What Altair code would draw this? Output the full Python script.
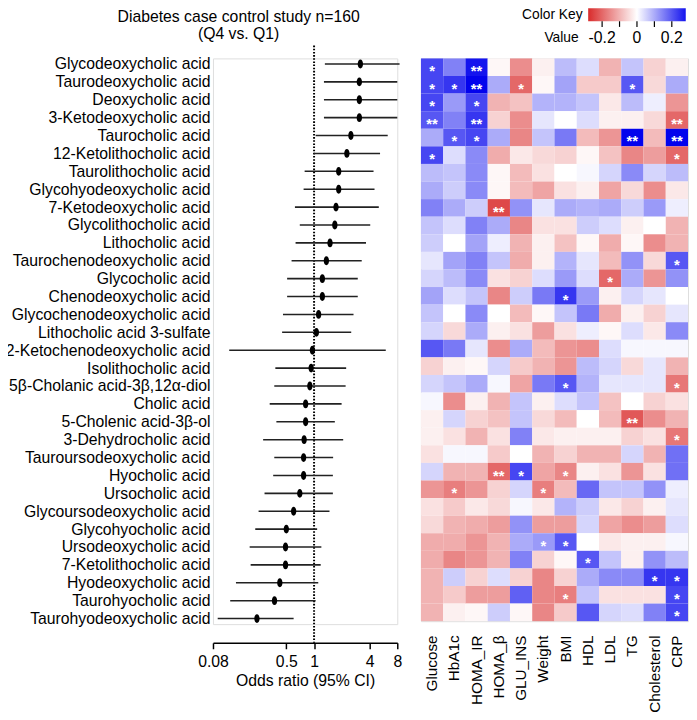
import altair as alt
import pandas as pd

acids = [
    "Glycodeoxycholic acid", "Taurodeoxycholic acid", "Deoxycholic acid",
    "3-Ketodeoxycholic acid", "Taurocholic acid", "12-Ketolithocholic acid",
    "Taurolithocholic acid", "Glycohyodeoxycholic acid", "7-Ketodeoxycholic acid",
    "Glycolithocholic acid", "Lithocholic acid", "Taurochenodeoxycholic acid",
    "Glycocholic acid", "Chenodeoxycholic acid", "Glycochenodeoxycholic acid",
    "Lithocholic acid 3-sulfate", "12-Ketochenodeoxycholic acid", "Isolithocholic acid",
    "5β-Cholanic acid-3β,12α-diol", "Cholic acid", "5-Cholenic acid-3β-ol",
    "3-Dehydrocholic acid", "Tauroursodeoxycholic acid", "Hyocholic acid",
    "Ursocholic acid", "Glycoursodeoxycholic acid", "Glycohyocholic acid",
    "Ursodeoxycholic acid", "7-Ketolithocholic acid", "Hyodeoxycholic acid",
    "Taurohyocholic acid", "Taurohyodeoxycholic acid",
]

odds_ratio = [3.18, 3.10, 3.10, 3.10, 2.51, 2.27, 1.85, 1.85, 1.73, 1.68, 1.49, 1.36,
              1.23, 1.23, 1.12, 1.06, 0.96, 0.93, 0.90, 0.81, 0.81, 0.78, 0.77, 0.77,
              0.70, 0.60, 0.50, 0.49, 0.49, 0.425, 0.372, 0.24]
ci_low = [1.31, 1.28, 1.28, 1.28, 1.04, 1.0, 0.79, 0.77, 0.62, 0.70, 0.63, 0.57,
          0.51, 0.51, 0.46, 0.45, 0.12, 0.38, 0.37, 0.33, 0.39, 0.28, 0.37, 0.36,
          0.29, 0.25, 0.23, 0.20, 0.205, 0.142, 0.123, 0.09]
ci_high = [8.47, 8.0, 8.0, 8.0, 6.3, 5.2, 4.42, 4.53, 5.04, 4.07, 3.66, 3.29,
           2.98, 2.98, 2.68, 2.53, 6.0, 2.23, 2.2, 1.99, 1.68, 2.07, 1.61, 1.60,
           1.60, 1.47, 1.08, 1.2, 1.18, 1.11, 1.04, 0.60]

variables = ["Glucose", "HbA1c", "HOMA_IR", "HOMA_β", "GLU_INS", "Weight", "BMI",
             "HDL", "LDL", "TG", "Cholesterol", "CRP"]

glucose = [0.22, 0.22, 0.22, 0.20, 0.10, 0.22, 0.08, 0.10, 0.15, 0.07, 0.06, 0.03,
           0.05, 0.11, 0.07, 0.05, 0.20, -0.06, 0.05, 0.01, -0.02, -0.02, -0.04, 0.05,
           -0.14, -0.04, -0.05, -0.11, -0.11, -0.10, -0.10, -0.10]
hba1c = [0.15, 0.24, 0.12, 0.15, 0.20, 0.04, 0.07, 0.06, 0.10, 0.04, 0.00, 0.11,
         0.08, 0.04, 0.00, -0.05, 0.16, -0.02, 0.07, -0.15, 0.05, -0.04, 0.01, -0.10,
         -0.17, -0.07, -0.10, -0.11, -0.16, 0.06, -0.07, -0.02]
homa_ir = [0.28, 0.30, 0.22, 0.24, 0.22, 0.14, 0.14, 0.14, 0.06, 0.15, 0.11, 0.15,
           0.14, 0.07, 0.14, 0.10, 0.03, -0.01, 0.10, -0.02, -0.06, -0.10, 0.01, -0.10,
           -0.14, -0.03, -0.11, -0.14, -0.14, -0.06, -0.13, -0.01]
homa_b = [-0.01, 0.10, -0.10, -0.06, 0.10, -0.11, -0.01, -0.01, -0.24, 0.10, 0.02, 0.07,
          -0.04, -0.16, 0.00, -0.02, -0.15, 0.05, 0.01, -0.10, -0.08, -0.04, -0.07, -0.20,
          -0.06, -0.05, -0.13, -0.10, -0.10, 0.04, -0.13, 0.06]
glu_ins = [-0.15, -0.20, -0.08, -0.15, -0.16, -0.03, -0.09, -0.09, 0.13, -0.16, -0.10, -0.11,
           -0.06, 0.06, -0.09, -0.04, 0.10, -0.07, -0.12, 0.07, 0.07, 0.15, 0.00, 0.22,
           0.05, 0.01, 0.13, 0.10, 0.15, -0.06, 0.19, -0.01]
weight = [-0.02, -0.01, 0.09, 0.03, 0.07, -0.05, -0.04, -0.12, 0.03, -0.04, -0.02, -0.02,
          0.04, 0.16, -0.01, -0.13, -0.09, -0.10, 0.16, -0.02, -0.05, -0.03, -0.10, -0.12,
          -0.17, -0.03, -0.13, 0.12, -0.06, -0.16, -0.16, -0.16]
bmi = [0.08, 0.11, 0.09, 0.00, 0.16, -0.06, 0.00, -0.04, 0.10, -0.04, -0.08, 0.09,
       0.12, 0.24, 0.07, -0.04, -0.14, -0.14, 0.20, 0.04, -0.09, -0.02, -0.06, -0.16,
       -0.09, 0.09, -0.13, 0.20, -0.01, -0.06, -0.17, -0.07]
hdl = [0.04, -0.07, 0.07, 0.04, -0.09, -0.01, 0.01, -0.02, 0.09, 0.06, -0.01, 0.03,
       0.04, 0.12, 0.16, 0.02, -0.15, 0.08, 0.09, 0.07, 0.00, -0.02, -0.10, -0.02,
       0.18, 0.06, 0.05, 0.00, 0.20, 0.10, 0.07, 0.20]
ldl = [-0.10, -0.07, -0.03, -0.02, -0.14, -0.08, 0.05, -0.12, 0.10, 0.04, -0.11, -0.09,
       -0.20, -0.02, -0.11, -0.01, 0.04, 0.05, 0.03, -0.08, -0.09, -0.02, -0.10, -0.04,
       0.07, -0.03, -0.12, -0.03, 0.07, 0.14, -0.04, 0.05]
tg = [0.07, 0.20, 0.08, -0.02, 0.30, -0.16, 0.14, -0.05, 0.06, -0.02, -0.01, 0.13,
      0.10, 0.05, -0.02, 0.04, 0.01, -0.05, 0.03, 0.00, -0.22, -0.06, 0.05, -0.14,
      0.07, -0.06, -0.15, -0.02, -0.02, 0.14, -0.04, 0.04]
cholesterol = [-0.06, -0.05, 0.02, -0.05, -0.09, -0.13, 0.05, -0.15, 0.12, 0.00, -0.15, -0.05,
               -0.14, 0.03, -0.06, -0.03, 0.01, 0.03, 0.03, -0.06, -0.15, -0.04, -0.10, -0.04,
               0.13, -0.02, -0.13, -0.02, 0.13, 0.24, -0.04, 0.15]
crp = [-0.02, 0.10, -0.14, -0.20, 0.30, -0.20, 0.08, -0.03, 0.02, -0.10, -0.10, 0.20,
       0.13, 0.00, 0.03, 0.14, 0.01, -0.10, -0.18, -0.04, -0.10, -0.18, 0.17, 0.17,
       0.02, 0.03, 0.04, 0.01, 0.08, 0.24, 0.22, 0.22]

significance = [
    ("Glycodeoxycholic acid", "Glucose", "*"), ("Glycodeoxycholic acid", "HOMA_IR", "**"),
    ("Taurodeoxycholic acid", "Glucose", "*"), ("Taurodeoxycholic acid", "HbA1c", "*"),
    ("Taurodeoxycholic acid", "HOMA_IR", "**"), ("Taurodeoxycholic acid", "GLU_INS", "*"),
    ("Taurodeoxycholic acid", "TG", "*"),
    ("Deoxycholic acid", "Glucose", "*"), ("Deoxycholic acid", "HOMA_IR", "*"),
    ("3-Ketodeoxycholic acid", "Glucose", "**"), ("3-Ketodeoxycholic acid", "HOMA_IR", "**"),
    ("3-Ketodeoxycholic acid", "CRP", "**"),
    ("Taurocholic acid", "HbA1c", "*"), ("Taurocholic acid", "HOMA_IR", "*"),
    ("Taurocholic acid", "TG", "**"), ("Taurocholic acid", "CRP", "**"),
    ("12-Ketolithocholic acid", "Glucose", "*"), ("12-Ketolithocholic acid", "CRP", "*"),
    ("7-Ketodeoxycholic acid", "HOMA_β", "**"),
    ("Taurochenodeoxycholic acid", "CRP", "*"),
    ("Glycocholic acid", "LDL", "*"),
    ("Chenodeoxycholic acid", "BMI", "*"),
    ("5β-Cholanic acid-3β,12α-diol", "BMI", "*"), ("5β-Cholanic acid-3β,12α-diol", "CRP", "*"),
    ("5-Cholenic acid-3β-ol", "TG", "**"),
    ("3-Dehydrocholic acid", "CRP", "*"),
    ("Hyocholic acid", "HOMA_β", "**"), ("Hyocholic acid", "GLU_INS", "*"),
    ("Hyocholic acid", "BMI", "*"),
    ("Ursocholic acid", "HbA1c", "*"), ("Ursocholic acid", "Weight", "*"),
    ("Ursodeoxycholic acid", "Weight", "*"), ("Ursodeoxycholic acid", "BMI", "*"),
    ("7-Ketolithocholic acid", "HDL", "*"),
    ("Hyodeoxycholic acid", "Cholesterol", "*"), ("Hyodeoxycholic acid", "CRP", "*"),
    ("Taurohyocholic acid", "BMI", "*"), ("Taurohyocholic acid", "CRP", "*"),
    ("Taurohyodeoxycholic acid", "CRP", "*"),
]

title_text = "Diabetes case control study n=160\n(Q4 vs. Q1)"
x_ticks = [0.08, 0.5, 1, 4, 8]
key_labels = ["-0.2", "0", "0.2"]
key_label_values = [-0.2, 0, 0.2]
key_ticks = [-0.2, -0.1, 0, 0.1, 0.2]
key_domain = [-0.28, 0.28]
RED, WHITE, BLUE = "#d92b2b", "#ffffff", "#1414ee"

FONT = "Liberation Sans"

# ---------------- forest plot ----------------
forest_df = pd.DataFrame({"acid": acids, "or": odds_ratio, "lo": ci_low, "hi": ci_high})

FH = 574
y_enc = alt.Y("acid:N", sort=acids,
              scale=alt.Scale(type="point", padding=0.31),
              axis=alt.Axis(title=None, domain=False, ticks=False, labelFontSize=16,
                            labelPadding=3, labelLimit=400, labelColor="black",
                            labelFont=FONT))
x_scale = alt.Scale(type="log", domain=[0.08, 8], nice=False)
x_axis = alt.Axis(values=x_ticks, format="~g", grid=False, title="Odds ratio (95% CI)",
                  titleFontSize=16, titleFontWeight="normal", titleColor="black",
                  titleFont=FONT, titlePadding=3, labelFontSize=16, labelColor="black",
                  labelFont=FONT, labelPadding=5, tickSize=6, tickColor="black",
                  tickWidth=1.5, domainColor="black", domainWidth=1.5, offset=19,
                  labelFlush=False, labelOverlap=False)

base = alt.Chart(forest_df)
ci = base.mark_rule(color="#222222", strokeWidth=1.6).encode(
    x=alt.X("lo:Q", scale=x_scale, axis=x_axis), x2="hi:Q", y=y_enc)
ellipse = "M0,-1 A0.6,1 0 1,1 0,1 A0.6,1 0 1,1 0,-1 Z"
pts = base.mark_point(shape=ellipse, filled=True, color="black", size=81, opacity=1).encode(
    x=alt.X("or:Q", scale=x_scale), y=y_enc)
ref = alt.Chart(pd.DataFrame({"one": [1]})).mark_rule(
    color="black", strokeWidth=2, strokeDash=[1.6, 1.6]).encode(
    x=alt.X("one:Q", scale=x_scale), y=alt.value(-13), y2=alt.value(FH + 19))
ttl = alt.Chart(pd.DataFrame({"t": [title_text]})).mark_text(
    fontSize=16, font=FONT, color="black", lineBreak="\n", lineHeight=17,
    baseline="top", align="center").encode(
    text="t:N", x=alt.value(26), y=alt.value(-50))

forest = alt.layer(ref, ci, pts, ttl).properties(width=187, height=FH)

# ---------------- heatmap ----------------
columns = [glucose, hba1c, homa_ir, homa_b, glu_ins, weight, bmi, hdl, ldl, tg,
           cholesterol, crp]
rows = []
for v, col in zip(variables, columns):
    for a, val in zip(acids, col):
        rows.append({"acid": a, "var": v, "value": val})
heat_df = pd.DataFrame(rows)
sig_df = pd.DataFrame(significance, columns=["acid", "var", "star"])

hx = alt.X("var:N", sort=variables,
           axis=alt.Axis(title=None, labelAngle=270, labelAlign="right",
                         labelBaseline="middle", labelFontSize=15.5, labelColor="black",
                         labelFont=FONT, ticks=False, domain=False, labelPadding=14))
hy = alt.Y("acid:N", sort=acids, axis=None)

cells = alt.Chart(heat_df).mark_rect().encode(
    x=hx, y=hy,
    color=alt.Color("value:Q",
                    scale=alt.Scale(domain=[key_domain[0], 0, key_domain[1]],
                                    range=[RED, WHITE, BLUE], interpolate="rgb"),
                    legend=None))
stars = alt.Chart(sig_df).mark_text(color="white", fontSize=15, fontWeight="bold",
                                     baseline="middle", dy=4, font=FONT).encode(
    x=alt.X("var:N", sort=variables, axis=None), y=alt.Y("acid:N", sort=acids),
    text="star:N")

# ----- colour key (drawn with its own linear scale) -----
key_scale = alt.Scale(domain=key_domain, range=[169.7, 268.7])
key_bar = alt.Chart(pd.DataFrame({"lo": [key_domain[0]], "hi": [key_domain[1]]})).mark_rect(
    color=alt.Gradient(gradient="linear", x1=0, y1=0, x2=1, y2=0,
                       stops=[alt.GradientStop(color=RED, offset=0),
                              alt.GradientStop(color=WHITE, offset=0.5),
                              alt.GradientStop(color=BLUE, offset=1)])).encode(
    x=alt.X("lo:Q", scale=key_scale, axis=None), x2="hi:Q",
    y=alt.value(-51), y2=alt.value(-37.7))
key_tick_layer = alt.Chart(pd.DataFrame({"k": key_ticks})).mark_rule(
    color="black", strokeWidth=1.2).encode(
    x=alt.X("k:Q", scale=key_scale, axis=None),
    y=alt.value(-37.7), y2=alt.value(-32))
key_text = alt.Chart(pd.DataFrame({"k": key_label_values, "t": key_labels})).mark_text(
    fontSize=16, font=FONT, color="black", baseline="middle").encode(
    x=alt.X("k:Q", scale=key_scale, axis=None), y=alt.value(-21), text="t:N")
key_title = alt.Chart(pd.DataFrame({"t": ["Color Key"]})).mark_text(
    fontSize=14, font=FONT, color="black", align="right", baseline="middle").encode(
    text="t:N", x=alt.value(164), y=alt.value(-44))
value_lbl = alt.Chart(pd.DataFrame({"t": ["Value"]})).mark_text(
    fontSize=14, font=FONT, color="black", align="right", baseline="middle").encode(
    text="t:N", x=alt.value(160), y=alt.value(-21))

heat = alt.layer(cells, stars, key_bar, key_tick_layer, key_text, key_title,
                 value_lbl).resolve_scale(x="independent").properties(width=271, height=571)

chart = alt.hconcat(forest, heat, spacing=18).properties(
    padding={"left": -13, "top": -6, "right": 0, "bottom": -6}
).configure_view(stroke=None).configure(font=FONT)

chart.save("out.html", embed_options={"renderer": "svg", "actions": False})
